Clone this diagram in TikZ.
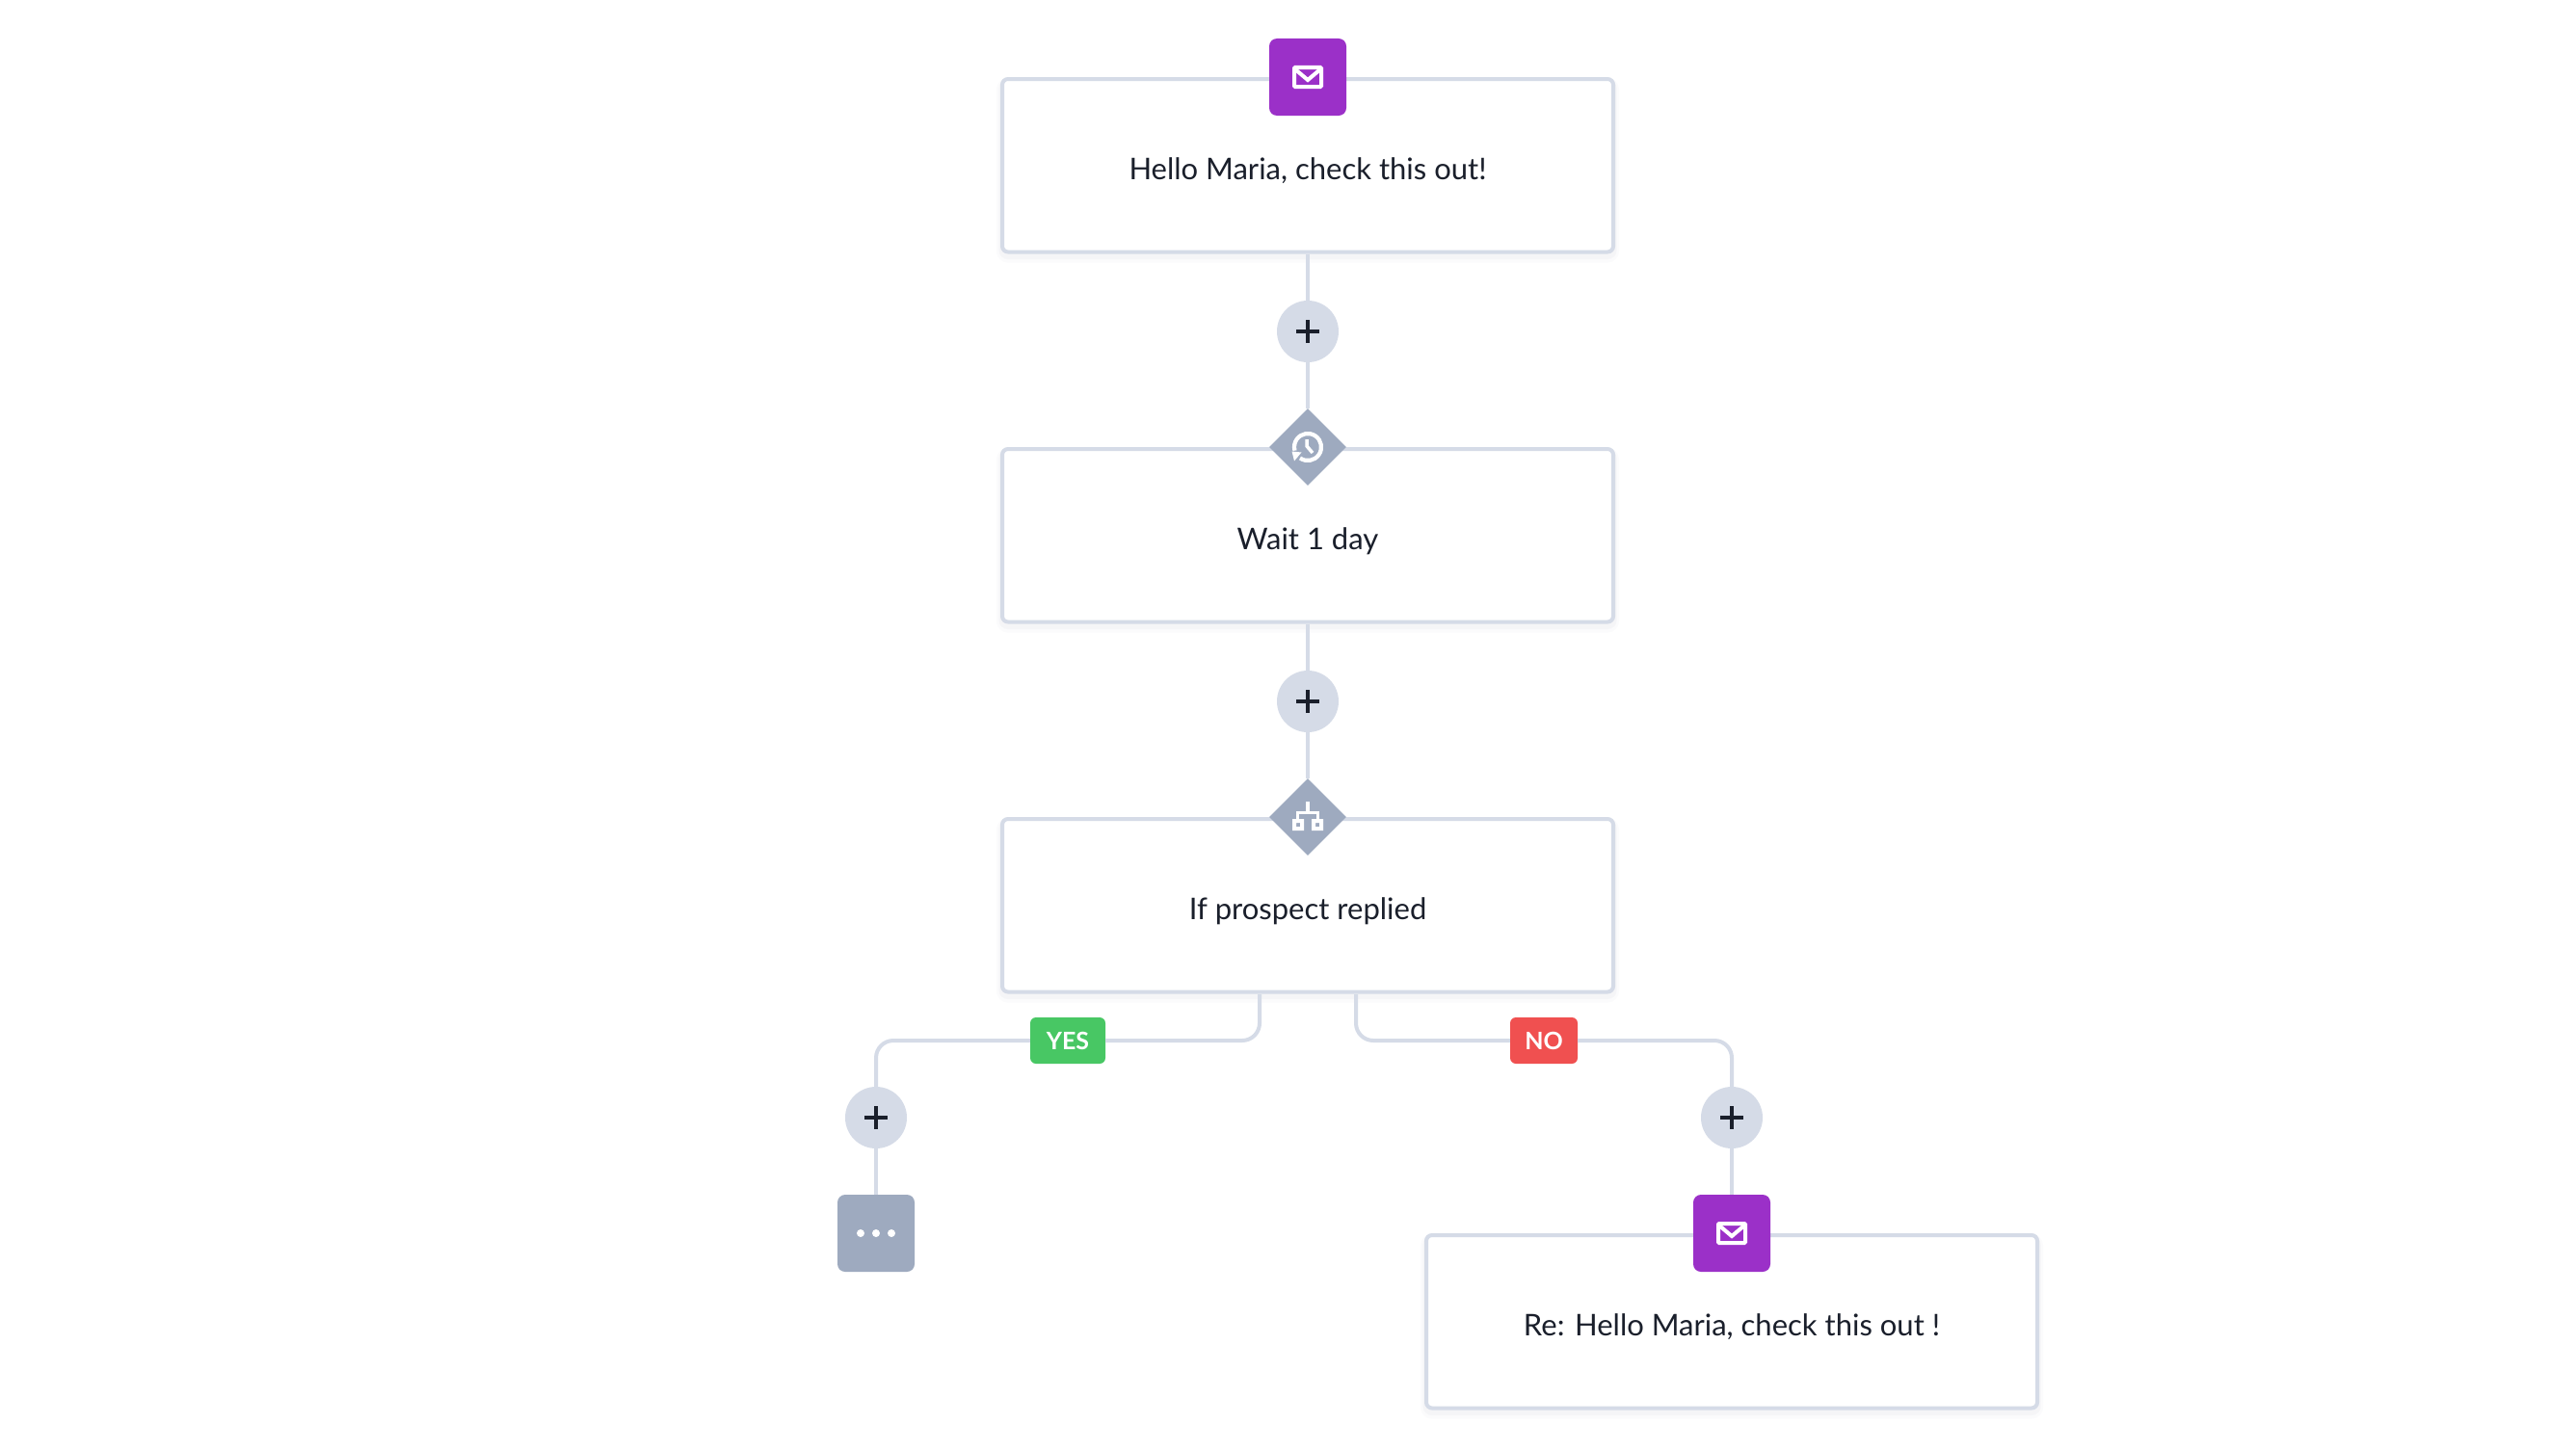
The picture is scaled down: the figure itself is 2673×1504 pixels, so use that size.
\documentclass[tikz,border=0pt]{standalone}
\usepackage{fontspec}
\setmainfont{Lato}
\usetikzlibrary{shapes.geometric}
\definecolor{linec}{HTML}{D5DBE7}
\definecolor{inkc}{HTML}{1A1F2B}
\definecolor{purplec}{HTML}{9B30C8}
\definecolor{slatec}{HTML}{9EAABF}
\definecolor{greenc}{HTML}{48C764}
\definecolor{redc}{HTML}{F05050}
\definecolor{shadowc}{HTML}{8A94AC}
\tikzset{
  x=1pt,y=-1pt,
  conn/.style={draw=linec,line width=4pt,rounded corners=18pt},
  cardbox/.style={rectangle,draw=linec,line width=4pt,rounded corners=6pt,fill=white,
    minimum width=634pt,minimum height=179.5pt,inner sep=0pt,
    text height=29pt,text depth=0pt,text=inkc,font=\fontsize{31pt}{34pt}\selectfont,
    preaction={draw=shadowc,draw opacity=.03,line width=12pt,transform canvas={yshift=-5pt}},
    preaction={draw=shadowc,draw opacity=.05,line width=7pt,transform canvas={yshift=-4pt}}},
  addbtn/.style={circle,fill=linec,minimum size=64pt,inner sep=0pt},
  iconsq/.style={rectangle,rounded corners=8pt,minimum size=80pt,inner sep=0pt},
  icondia/.style={diamond,fill=slatec,minimum width=80pt,minimum height=80pt,inner sep=0pt},
  badge/.style={rectangle,rounded corners=6pt,minimum height=48pt,inner sep=0pt,text=white,
    font=\fontsize{25pt}{28pt}\selectfont\bfseries},
  mailglyph/.pic={
    \draw[white,line width=4pt,rounded corners=1pt] (-14,-10) rectangle (14,10);
    \draw[white,line width=4pt,line join=miter] (-13,-8) -- (0,3) -- (13,-8);
  },
  plusglyph/.pic={
    \fill[inkc] (-12.2,-2) rectangle (12.2,2);
    \fill[inkc] (-2,-12.2) rectangle (2,12.2);
  },
  clockglyph/.pic={
    \draw[white,line width=4.2pt] (125:14) arc (125:-195:14);
    \fill[white] (-16.5,4.5) -- (-6.5,5.5) -- (-14,14.5) -- cycle;
    \draw[white,line width=3.5pt] (-1,-8) -- (-1,-1) -- (5,6);
  },
  branchglyph/.pic={
    \fill[white] (-1.7,-16) rectangle (1.7,-6);
    \fill[white] (-12,-6) rectangle (12,-3);
    \fill[white] (-12,-6) rectangle (-9,2);
    \fill[white] (9,-6) rectangle (12,2);
    \fill[white,even odd rule] (-16,2) rectangle (-4,14) (-12,6) rectangle (-8,10);
    \fill[white,even odd rule] (4,2) rectangle (16,14) (8,6) rectangle (12,10);
  },
  dotsglyph/.pic={
    \foreach \dx in {-16,0,16} \fill[white] (\dx,0) circle (4);
  }
}
\begin{document}
\begin{tikzpicture}
\useasboundingbox (0,0) rectangle (2673,1504);
\fill[white] (0,0) rectangle (2673,1504);

% cards
\node[cardbox] (card1) at (1357,171.75) {Hello Maria, check this out!};
\node[cardbox] (card2) at (1357,555.75) {Wait 1 day};
\node[cardbox] (card3) at (1357,939.75) {If prospect replied};
\node[cardbox] (card4) at (1797,1371.75) {Re: Hello Maria, check this out !};

% add buttons
\node[addbtn] (add1) at (1357,344) {};
\node[addbtn] (add2) at (1357,728) {};
\node[addbtn] (addL) at (909,1160) {};
\node[addbtn] (addR) at (1797,1160) {};

% step icons
\node[iconsq,fill=purplec] (mail1) at (1357,80) {};
\node[icondia] (wait) at (1357,464) {};
\node[icondia] (cond) at (1357,848) {};
\node[iconsq,fill=slatec] (more) at (909,1280) {};
\node[iconsq,fill=purplec] (mail2) at (1797,1280) {};

% badges
\node[badge,fill=greenc,minimum width=78pt] (yes) at (1108,1080) {YES};
\node[badge,fill=redc,minimum width=70pt] (no) at (1602,1080) {NO};

% free ends under the condition card
\coordinate (yesout) at (1307,1032);
\coordinate (noout) at (1407,1032);

% connectors
\draw[conn] (card1.south) -- (add1.north);
\draw[conn] (add1.south) -- (wait.north);
\draw[conn] (card2.south) -- (add2.north);
\draw[conn] (add2.south) -- (cond.north);
\draw[conn] (yesout) |- (yes.east);
\draw[conn] (yes.west) -| (addL.north);
\draw[conn] (addL.south) -- (more.north);
\draw[conn] (noout) |- (no.west);
\draw[conn] (no.east) -| (addR.north);
\draw[conn] (addR.south) -- (mail2.north);

% glyphs
\pic at (add1.center) {plusglyph};
\pic at (add2.center) {plusglyph};
\pic at (addL.center) {plusglyph};
\pic at (addR.center) {plusglyph};
\pic at (mail1.center) {mailglyph};
\pic at (mail2.center) {mailglyph};
\pic at (wait.center) {clockglyph};
\pic at (cond.center) {branchglyph};
\pic at (more.center) {dotsglyph};
\end{tikzpicture}
\end{document}
